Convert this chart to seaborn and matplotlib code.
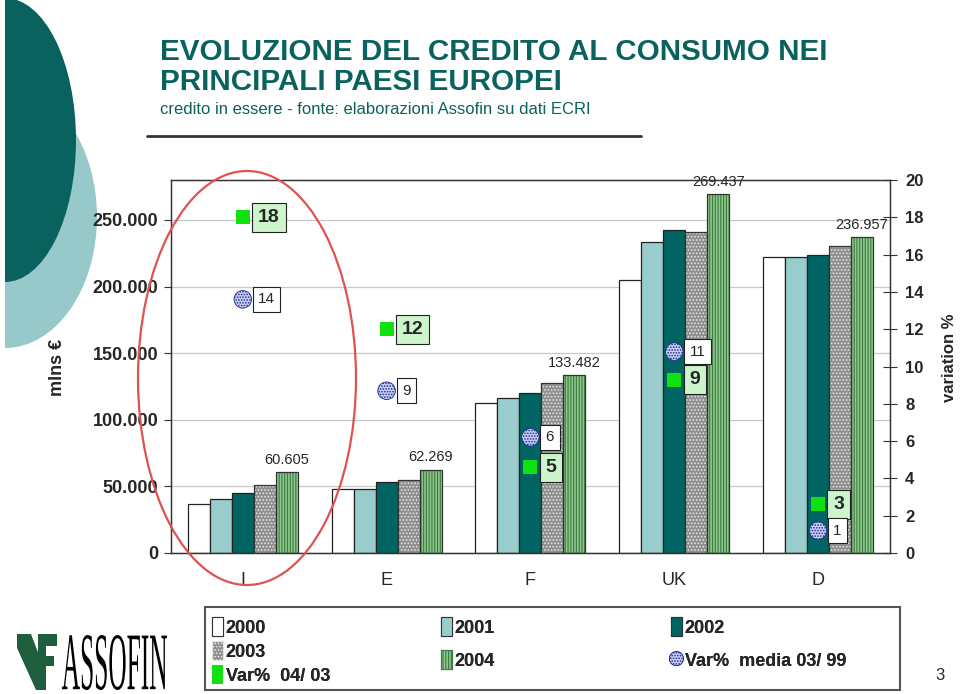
import matplotlib
matplotlib.use("Agg")
import numpy as np
import pandas as pd
import matplotlib.pyplot as plt
import seaborn as sns
from matplotlib.patches import Ellipse, Rectangle, Polygon, PathPatch, Patch
from matplotlib.textpath import TextPath
from matplotlib.font_manager import FontProperties
from matplotlib.transforms import Affine2D


# ----------------------------------
# Data
# ----------------------------------

countries = ["I", "E", "F", "UK", "D"]
years = ["2000", "2001", "2002", "2003", "2004"]

credit_2000 = [36800, 48000, 112600, 205000, 222000]
credit_2001 = [40500, 48000, 116000, 233500, 222000]
credit_2002 = [45000, 53300, 120000, 242500, 223700]
credit_2003 = [51000, 54800, 127600, 241000, 230500]
credit_2004 = [60605, 62269, 133482, 269437, 236957]

var_0403 = [18.0, 12.0, 4.6, 9.3, 2.6]
var_0403_labels = ["18", "12", "5", "9", "3"]
var_media = [13.6, 8.7, 6.2, 10.8, 1.2]
var_media_labels = ["14", "9", "6", "11", "1"]

df = pd.DataFrame({
    "country": countries * len(years),
    "year": np.repeat(years, len(countries)),
    "credit": credit_2000 + credit_2001 + credit_2002 + credit_2003 + credit_2004,
})


# ----------------------------------
# Style
# ----------------------------------

sns.set_style("white")
plt.rcParams["font.family"] = ["Liberation Sans", "DejaVu Sans"]
plt.rcParams["hatch.linewidth"] = 0.8

TEAL = "#0a625e"
LIGHT_TEAL = "#97c9cb"
GREEN = "#11e011"

bar_styles = {
    "2000": dict(fc="white", hatch=None, hc=None),
    "2001": dict(fc="#99cccc", hatch=None, hc=None),
    "2002": dict(fc="#006462", hatch=None, hc=None),
    "2003": dict(fc="#8e8e8e", hatch=".....", hc="#e4e4e4"),
    "2004": dict(fc="#8cc88c", hatch="||||||", hc="#3d7a3d"),
}

fig = plt.figure(figsize=(9.6, 6.94), dpi=100)

# background decorations (pixel coordinates)
bg = fig.add_axes([0, 0, 1, 1], zorder=-1)
bg.set_xlim(0, 960)
bg.set_ylim(694, 0)
bg.axis("off")
bg.add_patch(Ellipse((5, 217), 184, 262, color=LIGHT_TEAL, lw=0))
bg.add_patch(Ellipse((5, 140), 142, 284, color=TEAL, lw=0))
bg.add_patch(Rectangle((0, 0), 5, 694, color="white", lw=0))
bg.plot([147, 641], [136, 136], color="#333333", lw=2)
bg.add_patch(Rectangle((205, 607), 695, 83, fill=False, ec="#555555", lw=1.5))

# logo
bg.add_patch(Polygon([(17, 634), (31, 634), (44, 668), (44, 690), (36, 690), (17, 648)],
                     closed=True, color="#1f5e3c", lw=0))
bg.add_patch(Polygon([(38, 634), (57, 634), (57, 646), (46, 646), (46, 656), (54, 656),
                      (54, 666), (46, 666), (46, 690), (38, 690)],
                     closed=True, color="#1f5e3c", lw=0))
tp = TextPath((0, 0), "ASSOFIN", size=1, prop=FontProperties(family="Liberation Serif"))
bb = tp.get_extents()
logo_tr = (Affine2D().translate(-bb.x0, -bb.y0)
           .scale(105 / bb.width, -55 / bb.height).translate(62, 690))
bg.add_patch(PathPatch(logo_tr.transform_path(tp), fc="black", lw=0))


# ----------------------------------
# Bars
# ----------------------------------

ax = fig.add_axes([0.178, 0.2032, 0.749, 0.5374])

sns.barplot(
    data=df, x="country", y="credit", hue="year",
    order=countries, hue_order=years,
    palette=[bar_styles[y]["fc"] for y in years],
    width=0.765, saturation=1, errorbar=None, legend=False, ax=ax,
)

for container, year in zip(ax.containers, years):
    st = bar_styles[year]
    for bar in container:
        bar.set_facecolor(st["fc"])
        if st["hatch"]:
            bar.set_hatch(st["hatch"])
            bar.set_edgecolor(st["hc"])
            bar.set_linewidth(0)
            ax.add_patch(Rectangle(bar.get_xy(), bar.get_width(), bar.get_height(),
                                   fill=False, ec="#333333", lw=0.9, zorder=bar.get_zorder()))
        else:
            bar.set_edgecolor("#222222")
            bar.set_linewidth(0.9)

for bar, v in zip(ax.containers[-1], credit_2004):
    ax.annotate(f"{v:,}".replace(",", "."),
                (bar.get_x() + bar.get_width() / 2, bar.get_height()),
                xytext=(0, 4), textcoords="offset points",
                ha="center", va="bottom", fontsize=10.5, annotation_clip=False)

ax.set_xlim(-0.5, len(countries) - 0.5)
ax.set_ylim(0, 280000)
ax.set_yticks(np.arange(0, 250001, 50000))
ax.set_yticklabels(["0" if v == 0 else f"{v:,}".replace(",", ".")
                    for v in range(0, 250001, 50000)],
                   fontsize=13, fontweight="bold")
ax.set_xticks(range(len(countries)))
ax.set_xticklabels(countries, fontsize=13)
ax.set_xticks(np.arange(0.5, len(countries) - 1, 1), minor=True)
ax.tick_params(axis="x", which="major", length=0, pad=14)
ax.tick_params(axis="x", which="minor", length=6, direction="out", color="#333333")
ax.tick_params(axis="y", length=5, direction="out", color="#333333", pad=4)
ax.yaxis.grid(True, color="#c8c8c8", lw=0.9)
ax.set_axisbelow(True)
ax.set_xlabel("")
ax.set_ylabel("")
for sp in ax.spines.values():
    sp.set_visible(True)
    sp.set_color("#333333")
    sp.set_linewidth(1)


# ----------------------------------
# Variation markers (right axis)
# ----------------------------------

ax2 = ax.twinx()
xpos = np.arange(len(countries))

sq = ax2.scatter(xpos, var_0403, marker="s", s=110, color=GREEN, lw=0, zorder=5)
circ = ax2.scatter(xpos, var_media, marker="o", s=160, facecolors="#c9d0f2",
                   edgecolors="#1a2a90", hatch="......", linewidths=0.6, zorder=5)

for x, y, lab in zip(xpos, var_0403, var_0403_labels):
    ax2.annotate(lab, (x, y), xytext=(11, 0), textcoords="offset points",
                 ha="left", va="center", fontsize=14, fontweight="bold",
                 bbox=dict(boxstyle="square,pad=0.3", fc="#ccf5cc", ec="#222222", lw=0.8),
                 zorder=6)
for x, y, lab in zip(xpos, var_media, var_media_labels):
    ax2.annotate(lab, (x, y), xytext=(11, 0), textcoords="offset points",
                 ha="left", va="center", fontsize=11,
                 bbox=dict(boxstyle="square,pad=0.35", fc="white", ec="#222222", lw=0.8),
                 zorder=6)

ax2.set_ylim(0, 20)
ax2.set_yticks(range(0, 21, 2))
ax2.set_yticklabels([str(v) for v in range(0, 21, 2)], fontsize=12, fontweight="bold")
ax2.tick_params(axis="y", direction="inout", length=10, color="#333333", pad=6)
ax2.grid(False)
for sp in ax2.spines.values():
    sp.set_color("#333333")


# ----------------------------------
# Texts
# ----------------------------------

fig.text(160 / 960, 1 - 52 / 694, "EVOLUZIONE DEL CREDITO AL CONSUMO NEI",
         color=TEAL, fontsize=21.3, fontweight="bold", va="center")
fig.text(160 / 960, 1 - 82 / 694, "PRINCIPALI PAESI EUROPEI",
         color=TEAL, fontsize=21.3, fontweight="bold", va="center")
fig.text(160 / 960, 1 - 110 / 694,
         "credito in essere - fonte: elaborazioni Assofin su dati ECRI",
         color=TEAL, fontsize=12, va="center")
fig.text(57 / 960, 1 - 367 / 694, "mlns €", rotation=90, fontsize=13,
         fontweight="bold", ha="center", va="center")
fig.text(949 / 960, 1 - 358 / 694, "variation %", rotation=90, fontsize=12,
         fontweight="bold", ha="center", va="center")
fig.text(940 / 960, 1 - 675 / 694, "3", fontsize=12, ha="center", va="center")


# ----------------------------------
# Legend (three columns)
# ----------------------------------

def bar_handle(year):
    st = bar_styles[year]
    if st["hatch"]:
        return Patch(fc=st["fc"], ec=st["hc"], hatch=st["hatch"], lw=0.8)
    return Patch(fc=st["fc"], ec="#333333", lw=0.8)


legend_kw = dict(loc="upper left", bbox_transform=fig.transFigure, frameon=False,
                 prop=dict(weight="bold", size=13),
                 handlelength=0.6, handleheight=1.25, handletextpad=0.15,
                 borderaxespad=0, borderpad=0, markerscale=0.8)

columns = [
    (212, 617, [bar_handle("2000"), bar_handle("2003"), Patch(fc=GREEN, lw=0)],
     ["2000", "2003", "Var%  04/ 03"], 0.25),
    (441, 617, [bar_handle("2001"), bar_handle("2004")], ["2001", "2004"], 0.75),
    (671, 617, [bar_handle("2002"), circ], ["2002", "Var%  media 03/ 99"], 0.75),
]
for px, py, hs, ls, spacing in columns:
    leg = fig.legend(hs, ls, bbox_to_anchor=(px / 960, 1 - py / 694),
                     labelspacing=spacing, **legend_kw)
    fig.add_artist(leg)

# red highlight ellipse
ov = fig.add_axes([0, 0, 1, 1], zorder=5)
ov.set_xlim(0, 960)
ov.set_ylim(694, 0)
ov.axis("off")
ov.patch.set_alpha(0)
ov.add_patch(Ellipse((247, 378), 218, 414, fill=False, ec="#e05252", lw=1.6))

fig.savefig("out.png", dpi=100)
